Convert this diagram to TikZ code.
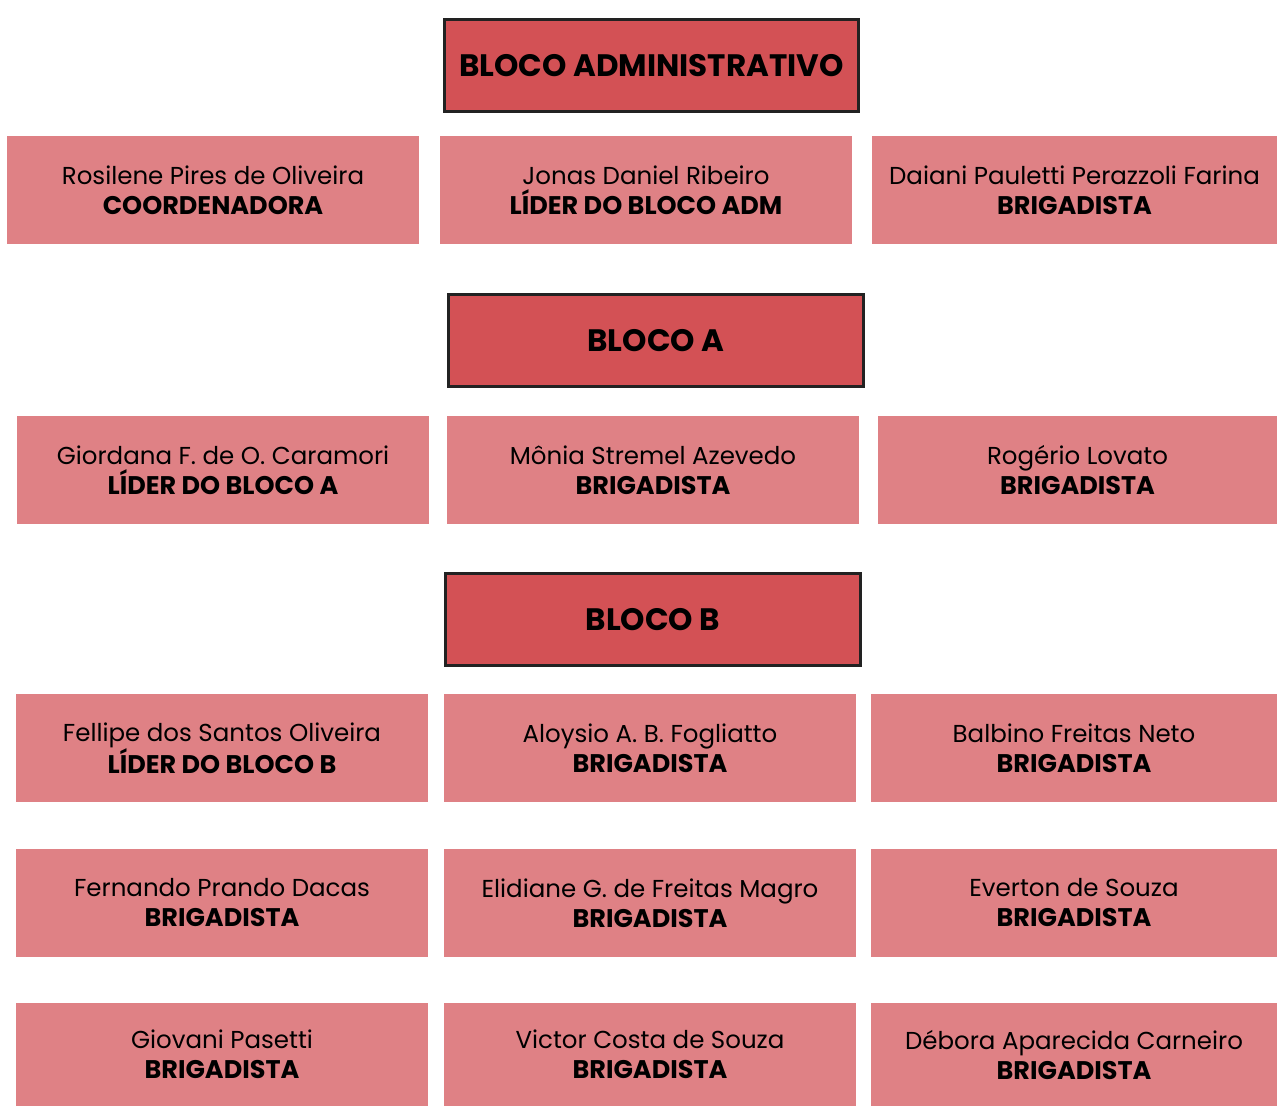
\documentclass[tikz,border=0pt]{standalone}
\usepackage{fontspec}
\setmainfont{Poppins}
\definecolor{hdrfill}{HTML}{D35155}
\definecolor{boxfill}{HTML}{DF8185}
\definecolor{hdrline}{HTML}{222222}
\tikzset{
  hdr/.style={draw=hdrline, line width=3pt, fill=hdrfill, inner sep=0pt, align=center,
    font=\fontsize{31}{34}\selectfont\bfseries, text=black},
  pbox/.style={fill=boxfill, inner sep=0pt, align=center,
    font=\fontsize{24.5}{30}\selectfont, text=black},
}
\newcommand{\mkhdr}[6]{\node[hdr, minimum width={#4-#2-3}, minimum height={#5-#3-3}] (#1) at ({(#2+#4)/2},{(#3+#5)/2}) {#6};}
\newcommand{\mkbox}[7]{\node[pbox, minimum width={#4-#2}, minimum height={#5-#3}] (#1) at ({(#2+#4)/2},{(#3+#5)/2}) {#6\\\fontsize{25.5}{30}\selectfont\textbf{#7}};}
\begin{document}
\begin{tikzpicture}[x=1pt,y=-1pt]
\useasboundingbox (0,0) rectangle (1277,1106);
\mkhdr{hadm}{443}{18}{860}{113}{BLOCO ADMINISTRATIVO}
\mkbox{r1a}{7}{136}{419}{244}{Rosilene Pires de Oliveira}{COORDENADORA}
\mkbox{r1b}{440}{136}{852}{244}{Jonas Daniel Ribeiro}{LÍDER DO BLOCO ADM}
\mkbox{r1c}{872}{136}{1277}{244}{Daiani Pauletti Perazzoli Farina}{BRIGADISTA}
\mkhdr{ha}{447}{293}{865}{388}{BLOCO A}
\mkbox{r2a}{17}{416}{429}{524}{Giordana F. de O. Caramori}{LÍDER DO BLOCO A}
\mkbox{r2b}{447}{416}{859}{524}{Mônia Stremel Azevedo}{BRIGADISTA}
\mkbox{r2c}{878}{416}{1277}{524}{Rogério Lovato}{BRIGADISTA}
\mkhdr{hb}{444}{572}{862}{667}{BLOCO B}
\mkbox{r3a}{16}{694}{428}{802}{Fellipe dos Santos Oliveira}{LÍDER DO BLOCO B}
\mkbox{r3b}{444}{694}{856}{802}{Aloysio A. B. Fogliatto}{BRIGADISTA}
\mkbox{r3c}{871}{694}{1277}{802}{Balbino Freitas Neto}{BRIGADISTA}
\mkbox{r4a}{16}{849}{428}{957}{Fernando Prando Dacas}{BRIGADISTA}
\mkbox{r4b}{444}{849}{856}{957}{Elidiane G. de Freitas Magro}{BRIGADISTA}
\mkbox{r4c}{871}{849}{1277}{957}{Everton de Souza}{BRIGADISTA}
\mkbox{r5a}{16}{1003}{428}{1106}{Giovani Pasetti}{BRIGADISTA}
\mkbox{r5b}{444}{1003}{856}{1106}{Victor Costa de Souza}{BRIGADISTA}
\mkbox{r5c}{871}{1003}{1277}{1106}{Débora Aparecida Carneiro}{BRIGADISTA}
\end{tikzpicture}
\end{document}
